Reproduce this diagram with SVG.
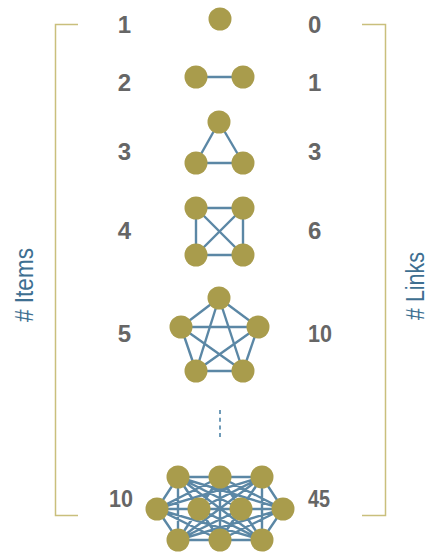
<svg xmlns="http://www.w3.org/2000/svg" width="425" height="553" viewBox="0 0 425 553">
<style>
.e{stroke:#5b87a5;stroke-width:2.4;fill:none}
.n{fill:#a99c4c}
.num{font-family:"Liberation Sans",Arial,sans-serif;font-weight:bold;font-size:24px;fill:#666}
.lab{font-family:"Liberation Sans",Arial,sans-serif;font-size:25px;fill:#3e6f91}
.br{stroke:#c9bf7c;stroke-width:1.5;fill:none}
</style>
<rect width="425" height="553" fill="#fff"/>
<g id="brackets">
<path class="br" d="M78,24.5H55.5V515.5H78"/>
<path class="br" d="M362,24.5H385.5V515.5H362"/>
</g>
<g id="axis-labels">
<text class="lab" transform="translate(33,285) rotate(-90)" text-anchor="middle" textLength="74" lengthAdjust="spacingAndGlyphs"># Items</text>
<text class="lab" transform="translate(424,286) rotate(-90)" text-anchor="middle" textLength="68" lengthAdjust="spacingAndGlyphs"># Links</text>
</g>
<g id="item-counts">
<text class="num" x="131" y="33" text-anchor="end">1</text>
<text class="num" x="131" y="91" text-anchor="end">2</text>
<text class="num" x="131" y="160" text-anchor="end">3</text>
<text class="num" x="131" y="239" text-anchor="end">4</text>
<text class="num" x="131" y="342" text-anchor="end">5</text>
<text class="num" x="133" y="507" text-anchor="end" textLength="24" lengthAdjust="spacingAndGlyphs">10</text>
</g>
<g id="link-counts">
<text class="num" x="308" y="33">0</text>
<text class="num" x="308" y="91">1</text>
<text class="num" x="308" y="160">3</text>
<text class="num" x="308" y="239">6</text>
<text class="num" x="308" y="342" textLength="24" lengthAdjust="spacingAndGlyphs">10</text>
<text class="num" x="308" y="507" textLength="22" lengthAdjust="spacingAndGlyphs">45</text>
</g>
<g id="connectors">
<line class="e" x1="196" y1="77" x2="243" y2="77"/>
<line class="e" x1="219" y1="122" x2="196" y2="163"/>
<line class="e" x1="219" y1="122" x2="243" y2="163"/>
<line class="e" x1="196" y1="163" x2="243" y2="163"/>
<line class="e" x1="196" y1="208" x2="243" y2="208"/>
<line class="e" x1="196" y1="208" x2="196" y2="255"/>
<line class="e" x1="196" y1="208" x2="243" y2="255"/>
<line class="e" x1="243" y1="208" x2="196" y2="255"/>
<line class="e" x1="243" y1="208" x2="243" y2="255"/>
<line class="e" x1="196" y1="255" x2="243" y2="255"/>
<line class="e" x1="219" y1="298" x2="181" y2="327"/>
<line class="e" x1="219" y1="298" x2="258" y2="327"/>
<line class="e" x1="219" y1="298" x2="196" y2="371"/>
<line class="e" x1="219" y1="298" x2="243" y2="371"/>
<line class="e" x1="181" y1="327" x2="258" y2="327"/>
<line class="e" x1="181" y1="327" x2="196" y2="371"/>
<line class="e" x1="181" y1="327" x2="243" y2="371"/>
<line class="e" x1="258" y1="327" x2="196" y2="371"/>
<line class="e" x1="258" y1="327" x2="243" y2="371"/>
<line class="e" x1="196" y1="371" x2="243" y2="371"/>
<line x1="220" y1="410" x2="220" y2="437" stroke="#6f9bb8" stroke-width="2" stroke-dasharray="4 3.7"/>
<path class="e" d="M178,477L220,477M178,477L262,477M178,477L157,509M178,477L199,509M178,477L241,509M178,477L283,509M178,477L178,540M178,477L220,540M178,477L262,540
M220,477L262,477M220,477L157,509M220,477L199,509M220,477L241,509M220,477L283,509M220,477L178,540M220,477L220,540M220,477L262,540
M262,477L157,509M262,477L199,509M262,477L241,509M262,477L283,509M262,477L178,540M262,477L220,540M262,477L262,540
M157,509L199,509M157,509L241,509M157,509L283,509M157,509L178,540M157,509L220,540M157,509L262,540
M199,509L241,509M199,509L283,509M199,509L178,540M199,509L220,540M199,509L262,540
M241,509L283,509M241,509L178,540M241,509L220,540M241,509L262,540
M283,509L178,540M283,509L220,540M283,509L262,540
M178,540L220,540M178,540L262,540M220,540L262,540"/>
</g>
<g id="n1-a"><circle class="n" cx="220" cy="19" r="11.5"/></g>
<g id="n2-a"><circle class="n" cx="196" cy="77" r="11.5"/></g>
<g id="n2-b"><circle class="n" cx="243" cy="77" r="11.5"/></g>
<g id="n3-a"><circle class="n" cx="219" cy="122" r="11.5"/></g>
<g id="n3-b"><circle class="n" cx="196" cy="163" r="11.5"/></g>
<g id="n3-c"><circle class="n" cx="243" cy="163" r="11.5"/></g>
<g id="n4-a"><circle class="n" cx="196" cy="208" r="11.5"/></g>
<g id="n4-b"><circle class="n" cx="243" cy="208" r="11.5"/></g>
<g id="n4-c"><circle class="n" cx="196" cy="255" r="11.5"/></g>
<g id="n4-d"><circle class="n" cx="243" cy="255" r="11.5"/></g>
<g id="n5-a"><circle class="n" cx="219" cy="298" r="11.5"/></g>
<g id="n5-b"><circle class="n" cx="181" cy="327" r="11.5"/></g>
<g id="n5-c"><circle class="n" cx="258" cy="327" r="11.5"/></g>
<g id="n5-d"><circle class="n" cx="196" cy="371" r="11.5"/></g>
<g id="n5-e"><circle class="n" cx="243" cy="371" r="11.5"/></g>
<g id="n10-a"><circle class="n" cx="178" cy="477" r="11.5"/></g>
<g id="n10-b"><circle class="n" cx="220" cy="477" r="11.5"/></g>
<g id="n10-c"><circle class="n" cx="262" cy="477" r="11.5"/></g>
<g id="n10-d"><circle class="n" cx="157" cy="509" r="11.5"/></g>
<g id="n10-e"><circle class="n" cx="199" cy="509" r="11.5"/></g>
<g id="n10-f"><circle class="n" cx="241" cy="509" r="11.5"/></g>
<g id="n10-g"><circle class="n" cx="283" cy="509" r="11.5"/></g>
<g id="n10-h"><circle class="n" cx="178" cy="540" r="11.5"/></g>
<g id="n10-i"><circle class="n" cx="220" cy="540" r="11.5"/></g>
<g id="n10-j"><circle class="n" cx="262" cy="540" r="11.5"/></g>
</svg>
